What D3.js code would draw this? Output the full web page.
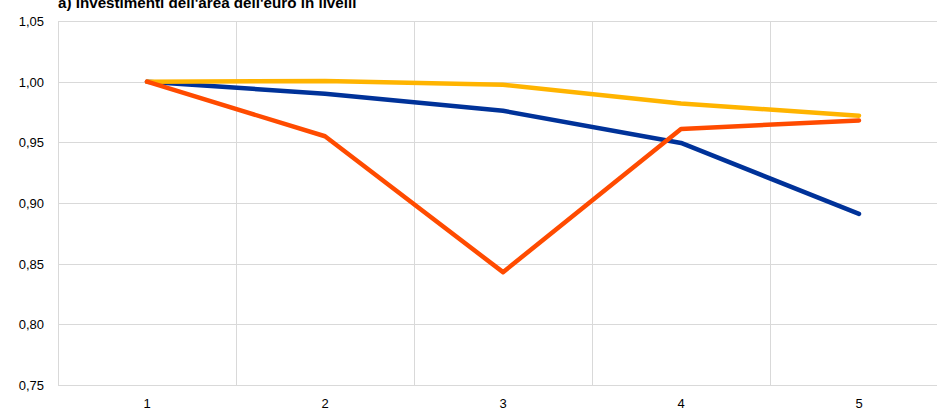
<!DOCTYPE html>
<html>
<head>
<meta charset="utf-8">
<script src="https://cdn.jsdelivr.net/npm/d3@7"></script>
<style>
  html, body { margin: 0; padding: 0; background: #fff; }
  svg { display: block; }
</style>
</head>
<body>
<svg id="chart" width="937" height="410"></svg>
<script>
const categories = [1, 2, 3, 4, 5];
const yTicks = [0.75, 0.80, 0.85, 0.90, 0.95, 1.00, 1.05];
const seriesBlue = [1.000, 0.990, 0.976, 0.9495, 0.891];
const seriesYellow = [1.000, 1.0005, 0.9975, 0.982, 0.972];
const seriesOrange = [1.000, 0.955, 0.843, 0.961, 0.968];
const title = "a) Investimenti dell'area dell'euro in livelli";

const series = [
  { values: seriesBlue, color: "#003299" },
  { values: seriesYellow, color: "#FFB400" },
  { values: seriesOrange, color: "#FF4B00" }
];

const svg = d3.select("#chart");
const mLeft = 58, mTop = 21, mBottom = 385, mRight = 948;

const x = d3.scaleBand().domain(categories).range([mLeft, mRight]).padding(0);
const y = d3.scaleLinear().domain([0.75, 1.05]).range([mBottom, mTop]);
const fmt = v => d3.format(".2f")(v).replace(".", ",");

// horizontal gridlines
svg.append("g").selectAll("line").data(yTicks).join("line")
  .attr("x1", mLeft).attr("x2", 937)
  .attr("y1", d => Math.round(y(d)) + 0.5).attr("y2", d => Math.round(y(d)) + 0.5)
  .attr("stroke", "#d9d9d9").attr("stroke-width", 1);

// vertical gridlines at band boundaries
svg.append("g").selectAll("line").data(categories).join("line")
  .attr("x1", d => Math.round(x(d)) + 0.5).attr("x2", d => Math.round(x(d)) + 0.5)
  .attr("y1", mTop).attr("y2", mBottom)
  .attr("stroke", "#d9d9d9").attr("stroke-width", 1);

// y labels
svg.append("g").selectAll("text").data(yTicks).join("text")
  .attr("x", 44).attr("y", d => y(d) + 5)
  .attr("text-anchor", "end")
  .attr("font-family", "Liberation Sans, Arial, sans-serif")
  .attr("font-size", 13).attr("fill", "#000")
  .text(fmt);

// x labels
svg.append("g").selectAll("text").data(categories).join("text")
  .attr("x", d => x(d) + x.bandwidth() / 2).attr("y", 408)
  .attr("text-anchor", "middle")
  .attr("font-family", "Liberation Sans, Arial, sans-serif")
  .attr("font-size", 13).attr("fill", "#000")
  .text(d => d);

// lines
const line = d3.line()
  .x((d, i) => x(categories[i]) + x.bandwidth() / 2)
  .y(d => y(d));

svg.append("g").selectAll("path").data(series).join("path")
  .attr("d", s => line(s.values))
  .attr("fill", "none")
  .attr("stroke", s => s.color)
  .attr("stroke-width", 4.5)
  .attr("stroke-linejoin", "round")
  .attr("stroke-linecap", "round");

// title
svg.append("text")
  .attr("x", 58).attr("y", 8)
  .attr("font-family", "Liberation Sans, Arial, sans-serif")
  .attr("font-size", 15.2).attr("font-weight", "bold").attr("fill", "#000")
  .text(title);
</script>
</body>
</html>
